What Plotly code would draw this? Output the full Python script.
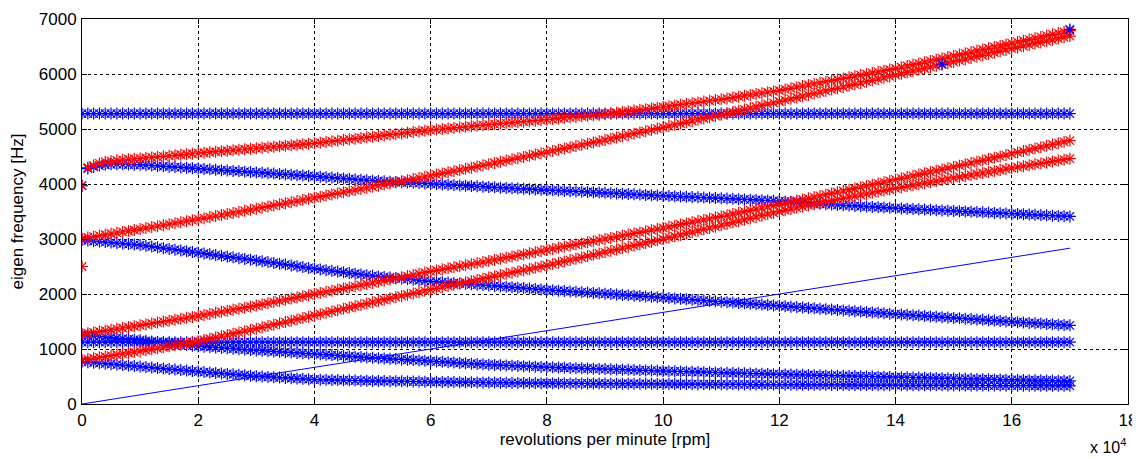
import plotly.graph_objects as go

# rotor speed samples [rpm], every 1000 rpm from 0 to 170000
rpm = [i * 1000 for i in range(171)]

# backward / non-gyroscopic modes (blue)
blue_5280 = [5280] * 171
blue_upper = [3970, 4280, 4310, 4335, 4350, 4358, 4360, 4358, 4355, 4352, 4350,
              4343, 4336, 4329, 4322, 4315, 4308, 4301, 4294, 4287, 4280,
              4273, 4266, 4259, 4252, 4245, 4238, 4231, 4224, 4217, 4210,
              4203, 4196, 4189, 4182, 4175, 4168, 4161, 4154, 4147, 4140,
              4132, 4124, 4116, 4108, 4100, 4092, 4084, 4076, 4068, 4060,
              4054, 4049, 4043, 4038, 4032, 4027, 4021, 4016, 4010, 4005,
              3999, 3993, 3987, 3981, 3975, 3969, 3963, 3957, 3951, 3945,
              3939, 3934, 3928, 3923, 3917, 3912, 3906, 3901, 3895, 3890,
              3885, 3880, 3875, 3870, 3865, 3860, 3855, 3850, 3845, 3840,
              3834, 3829, 3823, 3818, 3812, 3807, 3801, 3796, 3790, 3785,
              3780, 3776, 3771, 3767, 3762, 3758, 3753, 3749, 3744, 3740,
              3735, 3730, 3725, 3720, 3715, 3710, 3705, 3700, 3695, 3690,
              3683, 3676, 3669, 3662, 3655, 3648, 3641, 3634, 3627, 3620,
              3614, 3608, 3602, 3596, 3590, 3584, 3578, 3572, 3566, 3560,
              3555, 3550, 3545, 3540, 3535, 3530, 3525, 3520, 3515, 3510,
              3505, 3500, 3495, 3490, 3485, 3480, 3475, 3470, 3465, 3460,
              3455, 3450, 3445, 3440, 3435, 3430, 3425, 3420, 3415, 3410]
blue_mid = [2980, 2971, 2962, 2953, 2944, 2935, 2926, 2917, 2908, 2899, 2890,
            2876, 2862, 2848, 2834, 2820, 2806, 2792, 2778, 2764, 2750,
            2736, 2722, 2708, 2694, 2680, 2666, 2652, 2638, 2624, 2610,
            2595, 2580, 2565, 2550, 2535, 2520, 2505, 2490, 2475, 2460,
            2447, 2434, 2421, 2408, 2395, 2382, 2369, 2356, 2343, 2330,
            2320, 2310, 2300, 2290, 2280, 2270, 2260, 2250, 2240, 2230,
            2222, 2215, 2207, 2200, 2192, 2185, 2177, 2170, 2162, 2155,
            2147, 2139, 2131, 2123, 2115, 2107, 2099, 2091, 2083, 2075,
            2068, 2061, 2054, 2047, 2040, 2033, 2026, 2019, 2012, 2005,
            1998, 1991, 1984, 1977, 1970, 1963, 1956, 1949, 1942, 1935,
            1927, 1920, 1912, 1905, 1897, 1890, 1882, 1875, 1867, 1860,
            1852, 1845, 1837, 1830, 1822, 1815, 1807, 1800, 1792, 1785,
            1777, 1770, 1762, 1755, 1747, 1740, 1732, 1725, 1717, 1710,
            1702, 1695, 1687, 1680, 1672, 1665, 1657, 1650, 1642, 1635,
            1628, 1621, 1614, 1607, 1600, 1593, 1586, 1579, 1572, 1565,
            1558, 1551, 1544, 1537, 1530, 1523, 1516, 1509, 1502, 1495,
            1488, 1482, 1475, 1469, 1462, 1456, 1449, 1443, 1436, 1430]
blue_1125 = [1125] * 171
blue_low1 = [1260, 1250, 1240, 1230, 1220, 1210, 1200, 1190, 1180, 1170, 1160,
             1149, 1138, 1127, 1116, 1105, 1094, 1083, 1072, 1061, 1050,
             1042, 1035, 1027, 1020, 1012, 1005, 997, 990, 982, 975,
             968, 962, 955, 949, 942, 936, 929, 923, 916, 910,
             903, 896, 889, 882, 875, 868, 861, 854, 847, 840,
             834, 828, 822, 816, 810, 804, 798, 792, 786, 780,
             773, 767, 760, 754, 747, 741, 734, 728, 721, 715,
             710, 706, 701, 697, 692, 688, 683, 679, 674, 670,
             666, 663, 659, 656, 652, 649, 645, 642, 638, 635,
             631, 628, 624, 621, 617, 614, 610, 607, 603, 600,
             597, 594, 591, 588, 585, 582, 579, 576, 573, 570,
             567, 564, 561, 558, 555, 552, 549, 546, 543, 540,
             537, 535, 532, 530, 527, 525, 522, 520, 517, 515,
             512, 510, 507, 505, 502, 500, 497, 495, 492, 490,
             487, 485, 482, 480, 477, 475, 472, 470, 467, 465,
             462, 460, 457, 455, 452, 450, 447, 445, 442, 440,
             438, 436, 434, 432, 430, 428, 426, 424, 422, 420]
blue_low2 = [770, 761, 752, 743, 734, 725, 716, 707, 698, 689, 680,
             671, 662, 653, 644, 635, 626, 617, 608, 599, 590,
             581, 573, 564, 556, 547, 539, 530, 522, 513, 505,
             499, 493, 487, 481, 475, 469, 463, 457, 451, 445,
             442, 440, 437, 435, 432, 430, 427, 425, 422, 420,
             418, 417, 415, 414, 412, 411, 409, 408, 406, 405,
             403, 402, 400, 399, 397, 396, 394, 393, 391, 390,
             389, 388, 386, 385, 384, 383, 381, 380, 379, 378,
             377, 377, 376, 375, 375, 374, 373, 372, 372, 371,
             370, 370, 369, 368, 368, 367, 367, 366, 365, 365,
             364, 364, 363, 362, 361, 361, 360, 359, 359, 358,
             357, 357, 356, 356, 355, 354, 354, 353, 353, 352,
             351, 351, 350, 350, 349, 349, 348, 348, 347, 347,
             346, 346, 345, 345, 344, 344, 343, 343, 342, 342,
             342, 341, 341, 340, 340, 340, 339, 339, 338, 338,
             338, 337, 337, 336, 336, 336, 335, 335, 334, 334,
             334, 333, 333, 332, 332, 332, 331, 331, 330, 330]

# forward whirl modes (red)
red_top = [3970, 4300, 4340, 4375, 4400, 4415, 4430, 4440, 4450, 4458, 4465,
           4474, 4484, 4493, 4503, 4512, 4522, 4531, 4541, 4550, 4560,
           4569, 4578, 4587, 4596, 4605, 4614, 4623, 4632, 4641, 4650,
           4659, 4668, 4677, 4686, 4695, 4704, 4713, 4722, 4731, 4740,
           4752, 4764, 4776, 4788, 4800, 4812, 4824, 4836, 4848, 4860,
           4872, 4884, 4896, 4908, 4920, 4932, 4944, 4956, 4968, 4980,
           4990, 5000, 5010, 5020, 5030, 5040, 5050, 5060, 5070, 5080,
           5089, 5098, 5107, 5116, 5125, 5134, 5143, 5152, 5161, 5170,
           5180, 5190, 5200, 5210, 5220, 5230, 5240, 5250, 5260, 5270,
           5283, 5296, 5309, 5322, 5335, 5348, 5361, 5374, 5387, 5400,
           5414, 5428, 5442, 5456, 5470, 5484, 5498, 5512, 5526, 5540,
           5556, 5572, 5588, 5604, 5620, 5636, 5652, 5668, 5684, 5700,
           5720, 5740, 5760, 5780, 5800, 5820, 5840, 5860, 5880, 5900,
           5920, 5940, 5960, 5980, 6000, 6020, 6040, 6060, 6080, 6100,
           6123, 6146, 6169, 6192, 6215, 6238, 6261, 6284, 6307, 6330,
           6353, 6376, 6399, 6422, 6445, 6468, 6491, 6514, 6537, 6560,
           6583, 6606, 6629, 6652, 6675, 6698, 6721, 6744, 6767, 6790]
red_3000 = [3010, 3027, 3044, 3061, 3078, 3095, 3112, 3129, 3146, 3163, 3180,
            3198, 3216, 3234, 3252, 3270, 3288, 3306, 3324, 3342, 3360,
            3379, 3398, 3417, 3436, 3455, 3474, 3493, 3512, 3531, 3550,
            3570, 3590, 3610, 3630, 3650, 3670, 3690, 3710, 3730, 3750,
            3770, 3790, 3810, 3830, 3850, 3870, 3890, 3910, 3930, 3950,
            3970, 3990, 4010, 4030, 4050, 4070, 4090, 4110, 4130, 4150,
            4171, 4192, 4213, 4234, 4255, 4276, 4297, 4318, 4339, 4360,
            4382, 4404, 4426, 4448, 4470, 4492, 4514, 4536, 4558, 4580,
            4602, 4624, 4646, 4668, 4690, 4712, 4734, 4756, 4778, 4800,
            4823, 4846, 4869, 4892, 4915, 4938, 4961, 4984, 5007, 5030,
            5053, 5076, 5099, 5122, 5145, 5168, 5191, 5214, 5237, 5260,
            5284, 5308, 5332, 5356, 5380, 5404, 5428, 5452, 5476, 5500,
            5524, 5548, 5572, 5596, 5620, 5644, 5668, 5692, 5716, 5740,
            5764, 5788, 5812, 5836, 5860, 5884, 5908, 5932, 5956, 5980,
            6004, 6028, 6052, 6076, 6100, 6124, 6148, 6172, 6196, 6220,
            6244, 6268, 6292, 6316, 6340, 6364, 6388, 6412, 6436, 6460,
            6483, 6506, 6529, 6552, 6575, 6598, 6621, 6644, 6667, 6690]
red_1270 = [1270, 1286, 1302, 1318, 1334, 1350, 1366, 1382, 1398, 1414, 1430,
            1447, 1464, 1481, 1498, 1515, 1532, 1549, 1566, 1583, 1600,
            1619, 1638, 1657, 1676, 1695, 1714, 1733, 1752, 1771, 1790,
            1811, 1832, 1853, 1874, 1895, 1916, 1937, 1958, 1979, 2000,
            2020, 2040, 2060, 2080, 2100, 2120, 2140, 2160, 2180, 2200,
            2221, 2242, 2263, 2284, 2305, 2326, 2347, 2368, 2389, 2410,
            2429, 2448, 2467, 2486, 2505, 2524, 2543, 2562, 2581, 2600,
            2620, 2640, 2660, 2680, 2700, 2720, 2740, 2760, 2780, 2800,
            2820, 2840, 2860, 2880, 2900, 2920, 2940, 2960, 2980, 3000,
            3020, 3040, 3060, 3080, 3100, 3120, 3140, 3160, 3180, 3200,
            3221, 3242, 3263, 3284, 3305, 3326, 3347, 3368, 3389, 3410,
            3432, 3454, 3476, 3498, 3520, 3542, 3564, 3586, 3608, 3630,
            3652, 3674, 3696, 3718, 3740, 3762, 3784, 3806, 3828, 3850,
            3873, 3896, 3919, 3942, 3965, 3988, 4011, 4034, 4057, 4080,
            4103, 4126, 4149, 4172, 4195, 4218, 4241, 4264, 4287, 4310,
            4334, 4358, 4382, 4406, 4430, 4454, 4478, 4502, 4526, 4550,
            4574, 4598, 4622, 4646, 4670, 4694, 4718, 4742, 4766, 4790]
red_800 = [800, 816, 832, 848, 864, 880, 896, 912, 928, 944, 960,
           978, 996, 1014, 1032, 1050, 1068, 1086, 1104, 1122, 1140,
           1163, 1186, 1209, 1232, 1255, 1278, 1301, 1324, 1347, 1370,
           1394, 1418, 1442, 1466, 1490, 1514, 1538, 1562, 1586, 1610,
           1634, 1658, 1682, 1706, 1730, 1754, 1778, 1802, 1826, 1850,
           1873, 1896, 1919, 1942, 1965, 1988, 2011, 2034, 2057, 2080,
           2102, 2124, 2146, 2168, 2190, 2212, 2234, 2256, 2278, 2300,
           2322, 2344, 2366, 2388, 2410, 2432, 2454, 2476, 2498, 2520,
           2544, 2568, 2592, 2616, 2640, 2664, 2688, 2712, 2736, 2760,
           2784, 2808, 2832, 2856, 2880, 2904, 2928, 2952, 2976, 3000,
           3025, 3050, 3075, 3100, 3125, 3150, 3175, 3200, 3225, 3250,
           3275, 3300, 3325, 3350, 3375, 3400, 3425, 3450, 3475, 3500,
           3522, 3544, 3566, 3588, 3610, 3632, 3654, 3676, 3698, 3720,
           3740, 3760, 3780, 3800, 3820, 3840, 3860, 3880, 3900, 3920,
           3939, 3958, 3977, 3996, 4015, 4034, 4053, 4072, 4091, 4110,
           4128, 4146, 4164, 4182, 4200, 4218, 4236, 4254, 4272, 4290,
           4307, 4324, 4341, 4358, 4375, 4392, 4409, 4426, 4443, 4460]

# isolated solver points
red_extra_rpm = [0]
red_extra_f = [2500]
blue_extra_rpm = [148000, 170000]
blue_extra_f = [6180, 6810]

# 1x excitation line (rpm / 60)
line_rpm = [0, 170000]
line_f = [0, 2833]

x_tick_vals = [i * 20000 for i in range(10)]
x_tick_text = ["0", "2", "4", "6", "8", "10", "12", "14", "16", "18"]

BLUE = "#0000ff"
RED = "#ff0000"
mk = dict(symbol="asterisk-open", size=10, line=dict(width=1.2))

fig = go.Figure()
for ys in [blue_5280, blue_upper, blue_mid, blue_1125, blue_low1, blue_low2]:
    fig.add_trace(go.Scatter(x=rpm, y=ys, mode="markers",
                             marker=dict(**mk, color=BLUE), showlegend=False))
fig.add_trace(go.Scatter(x=line_rpm, y=line_f, mode="lines",
                         line=dict(color=BLUE, width=1), showlegend=False))
for ys in [red_top, red_3000, red_1270, red_800]:
    fig.add_trace(go.Scatter(x=rpm, y=ys, mode="markers",
                             marker=dict(**mk, color=RED), showlegend=False))
fig.add_trace(go.Scatter(x=red_extra_rpm, y=red_extra_f, mode="markers",
                         marker=dict(**mk, color=RED), showlegend=False))
fig.add_trace(go.Scatter(x=blue_extra_rpm, y=blue_extra_f, mode="markers",
                         marker=dict(**mk, color=BLUE), showlegend=False))

axis_common = dict(
    showline=True, linecolor="black", linewidth=1, mirror="allticks",
    ticks="inside", ticklen=5, tickcolor="black",
    showgrid=True, gridcolor="black", gridwidth=1, griddash="3px,3px",
    zeroline=False, automargin=False,
    tickfont=dict(size=17, color="black"),
)

fig.update_xaxes(range=[0, 180000], tickvals=x_tick_vals, ticktext=x_tick_text,
                 title=dict(text="revolutions per minute [rpm]", standoff=3,
                            font=dict(size=17, color="black")),
                 ticklabelstandoff=1, **axis_common)
fig.update_yaxes(range=[0, 7000], dtick=1000,
                 title=dict(text="eigen frequency [Hz]", standoff=14,
                            font=dict(size=17, color="black")),
                 ticklabelstandoff=1, **axis_common)

fig.add_annotation(text="x 10<sup>4</sup>", xref="paper", yref="paper",
                   x=1.0, y=-0.14, xanchor="right", yanchor="bottom",
                   showarrow=False, font=dict(size=16, color="black"))

# the page body adds an 8 px offset, so the figure is sized to fill the window
fig.update_layout(
    width=1132, height=451,
    margin=dict(l=74, r=12, t=11, b=55),
    paper_bgcolor="white", plot_bgcolor="white",
    font=dict(family="Liberation Sans, Arial, sans-serif", size=17, color="black"),
)

fig.write_html("out.html")
